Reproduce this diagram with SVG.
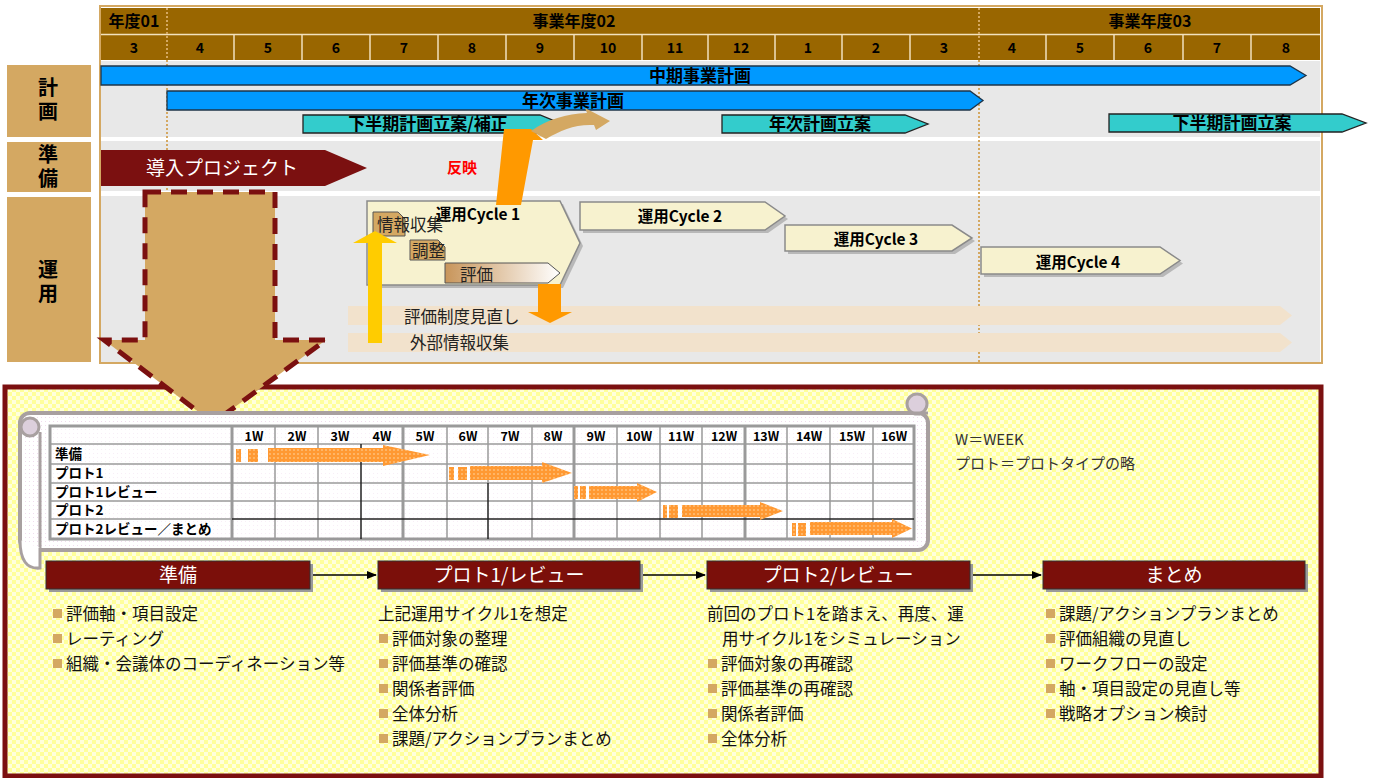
<svg xmlns="http://www.w3.org/2000/svg" width="1376" height="778" viewBox="0 0 1376 778">
<defs>
<pattern id="chk" width="8" height="8" patternUnits="userSpaceOnUse"><rect width="8" height="8" fill="#FFFFDC"/><rect width="4" height="4" fill="#FFFF9A"/><rect x="4" y="4" width="4" height="4" fill="#FFFF9A"/></pattern>
<pattern id="dots" width="4" height="4" patternUnits="userSpaceOnUse"><rect width="4" height="4" fill="#FFFFFF"/><rect x="1" y="1" width="1" height="1" fill="#F0DCEE"/></pattern>
<pattern id="odot" width="4" height="4" patternUnits="userSpaceOnUse"><rect width="4" height="4" fill="#FF9933"/><circle cx="2" cy="2" r="0.8" fill="#FFD9A8"/></pattern>
<linearGradient id="grad" x1="0" x2="1" y1="0" y2="0"><stop offset="0" stop-color="#C8955A"/><stop offset="1" stop-color="#FFFFFF"/></linearGradient>
<marker id="ah" markerWidth="10" markerHeight="10" refX="9" refY="5" orient="auto" markerUnits="userSpaceOnUse"><path d="M0,1 L10,5 L0,9 z" fill="#000"/></marker>
</defs>
<style>
text{font-family:"Noto Sans CJK JP","Noto Sans",sans-serif;}
.hd{font-size:16px;font-weight:bold;fill:#000;text-anchor:middle;}
.mo{font-size:14px;font-weight:bold;fill:#000;text-anchor:middle;}
.lab{font-size:20px;font-weight:bold;fill:#000;text-anchor:middle;writing-mode:vertical-rl;letter-spacing:4px;}
.bar{font-size:17px;font-weight:bold;fill:#000;text-anchor:middle;}
.cy{font-size:15.5px;font-weight:bold;fill:#000;text-anchor:middle;}
.blue{fill:#0099FF;stroke:#1E3448;stroke-width:1.3;}
.teal{fill:#33CCCC;stroke:#222;stroke-width:1.3;}
.cyc{fill:#F7F2CF;stroke:#8A8A8A;stroke-width:1.5;}
.cycs{fill:#B8B8B8;}
.band{fill:#F2E2CC;}
.bt{font-size:16.5px;fill:#222;}
.grid{stroke:#9A9A9A;stroke-width:1.5;fill:none;}
.wk{font-size:12.5px;font-weight:bold;fill:#000;text-anchor:middle;}
.rl{font-size:13.5px;font-weight:bold;fill:#000;}
.ga{fill:url(#odot);}
.ph{fill:#7B0F0A;stroke:#333;stroke-width:1;}
.phs{fill:#9A9A9A;}
.pt{font-size:19px;fill:#FFF;text-anchor:middle;}
.li{font-size:16.5px;fill:#111;}
.sq{fill:#D4A862;}
.conn{stroke:#000;stroke-width:1.3;fill:none;marker-end:url(#ah);}
.tan{fill:#D4A862;}
.dotl{stroke:#D4A862;stroke-width:2;stroke-dasharray:2 2;}
</style>

<g id="timeline-frame">
<rect x="101" y="61" width="1219" height="76" fill="#E8E8E8"/>
<rect x="101" y="141" width="1219" height="50" fill="#E8E8E8"/>
<rect x="101" y="196" width="1219" height="166" fill="#E8E8E8"/>
<rect x="100" y="6" width="1222" height="357" fill="none" stroke="#D4A862" stroke-width="2"/>
</g>

<g id="header">
<rect x="101" y="8" width="1219" height="52" fill="#996600"/>
<line x1="101" y1="34.5" x2="1320" y2="34.5" stroke="#F3E2BE" stroke-width="1.5"/>
<g stroke="#F3E2BE" stroke-width="1.5">
<line x1="234" y1="35" x2="234" y2="60"/><line x1="302" y1="35" x2="302" y2="60"/><line x1="370" y1="35" x2="370" y2="60"/><line x1="438" y1="35" x2="438" y2="60"/><line x1="506" y1="35" x2="506" y2="60"/><line x1="574" y1="35" x2="574" y2="60"/><line x1="642" y1="35" x2="642" y2="60"/><line x1="708" y1="35" x2="708" y2="60"/><line x1="775" y1="35" x2="775" y2="60"/><line x1="842" y1="35" x2="842" y2="60"/><line x1="910" y1="35" x2="910" y2="60"/><line x1="1046" y1="35" x2="1046" y2="60"/><line x1="1114" y1="35" x2="1114" y2="60"/><line x1="1183" y1="35" x2="1183" y2="60"/><line x1="1251" y1="35" x2="1251" y2="60"/>
</g>
<text class="hd" x="134" y="27">年度01</text>
<text class="hd" x="574" y="27">事業年度02</text>
<text class="hd" x="1150" y="27">事業年度03</text>
<text class="mo" x="134" y="53">3</text><text class="mo" x="200" y="53">4</text><text class="mo" x="268" y="53">5</text><text class="mo" x="336" y="53">6</text><text class="mo" x="404" y="53">7</text><text class="mo" x="472" y="53">8</text><text class="mo" x="540" y="53">9</text><text class="mo" x="608" y="53">10</text><text class="mo" x="675" y="53">11</text><text class="mo" x="741" y="53">12</text><text class="mo" x="808" y="53">1</text><text class="mo" x="876" y="53">2</text><text class="mo" x="944" y="53">3</text><text class="mo" x="1012" y="53">4</text><text class="mo" x="1080" y="53">5</text><text class="mo" x="1148" y="53">6</text><text class="mo" x="1217" y="53">7</text><text class="mo" x="1286" y="53">8</text>
</g>

<g id="row-labels">
<rect class="tan" x="7" y="65" width="84" height="72"/>
<text class="lab" x="48" y="101">計画</text>
<rect class="tan" x="7" y="142" width="84" height="50"/>
<text class="lab" x="48" y="168">準備</text>
<rect class="tan" x="7" y="197" width="84" height="165"/>
<text class="lab" x="48" y="283">運用</text>
</g>

<g id="dotted-lines">
<line class="dotl" x1="167" y1="8" x2="167" y2="190"/>
<line class="dotl" x1="979" y1="8" x2="979" y2="362"/>
</g>

<g id="plan-bars">
<polygon class="blue" points="101,66 1290,66 1306,75.5 1290,85 101,85"/>
<text class="bar" x="700" y="82">中期事業計画</text>
<polygon class="blue" points="167,91 970,91 983,100.5 970,110 167,110"/>
<text class="bar" x="573" y="107">年次事業計画</text>
<polygon class="teal" points="303,115 540,115 562,124 540,133 303,133"/>
<text class="bar" x="428" y="130">下半期計画立案/補正</text>
<polygon class="teal" points="722,115 905,115 928,124 905,133 722,133"/>
<text class="bar" x="820" y="130">年次計画立案</text>
<polygon class="teal" points="1109,114 1342,114 1366,123 1342,132 1109,132"/>
<text class="bar" x="1232" y="129">下半期計画立案</text>
</g>

<g id="prep-project">
<polygon points="101,150 325,150 367,168 325,186 101,186" fill="#7B1010"/>
<text x="222" y="175" font-size="19" fill="#FFF" text-anchor="middle">導入プロジェクト</text>
<text x="462" y="173" font-size="15" font-weight="bold" fill="#FF0000" text-anchor="middle">反映</text>
</g>

<g id="ops-bands">
<polygon class="band" points="348,306 1280,306 1292,315.5 1280,325 348,325"/>
<text class="bt" x="404" y="323">評価制度見直し</text>
<polygon class="band" points="348,333 1280,333 1292,342.5 1280,352 348,352"/>
<text class="bt" x="410" y="349">外部情報収集</text>
</g>

<g id="cycle1">
<polygon class="cycs" points="370,204 563,204 583,246 563,288 370,288"/>
<polygon class="cyc" points="367,201 560,201 580,243 560,285 367,285"/>
<text class="cy" x="478" y="220">運用Cycle 1</text>
<path d="M373,212 L398,212 L405,219 L405,236 L373,236 Z" fill="#D4A862" stroke="#555" stroke-width="1"/>
<text class="bt" x="377" y="231">情報収集</text>
<path d="M410,240 L438,240 L445,247 L445,260 L410,260 Z" fill="#D4A862" stroke="#555" stroke-width="1"/>
<text class="bt" x="412" y="257">調整</text>
<path d="M445,263 L548,263 L560,273 L548,283 L445,283 Z" fill="url(#grad)" stroke="#555" stroke-width="1"/>
<text class="bt" x="460" y="281">評価</text>
</g>

<g id="cycle2">
<polygon class="cycs" points="583,205 768,205 788,219 768,233 583,233"/>
<polygon class="cyc" points="580,202 765,202 785,216 765,230 580,230"/>
<text class="cy" x="680" y="222">運用Cycle 2</text>
</g>
<g id="cycle3">
<polygon class="cycs" points="788,228 955,228 975,241 955,254 788,254"/>
<polygon class="cyc" points="785,225 952,225 972,238 952,251 785,251"/>
<text class="cy" x="876" y="245">運用Cycle 3</text>
</g>
<g id="cycle4">
<polygon class="cycs" points="984,250 1163,250 1183,263.5 1163,277 984,277"/>
<polygon class="cyc" points="981,247 1160,247 1180,260.5 1160,274 981,274"/>
<text class="cy" x="1078" y="268">運用Cycle 4</text>
</g>

<g id="flow-arrows">
<polygon points="368,343 382,343 382,243 397,243 375,231 353,243 368,243" fill="#FFCC00"/>
<polygon points="538,284 561,284 561,312 572,312 550,323 528,312 538,312" fill="#FF9900"/>
<polygon points="496,205 521,205 533,140 543,140 531,129 504,129" fill="#FF9900"/>
<path d="M531,131 C548,119 566,114 587,113 L585,108 L610,121 L596,130 L594,125 C575,124 561,130 546,139 Z" fill="#D4A862"/>
</g>

<g id="detail-panel">
<rect x="5" y="387" width="1316" height="389" fill="url(#chk)" stroke="#7B1010" stroke-width="5"/>
</g>

<g id="big-arrow">
<polygon points="145,192 275,192 275,340 326,340 213,423 104,340 145,340" fill="#D4A862" stroke="#7B1010" stroke-width="5" stroke-dasharray="16 10"/>
</g>

<g id="scroll">
<rect x="20" y="413" width="908" height="137" rx="10" fill="url(#dots)" stroke="#A8A0A0" stroke-width="4"/>
<line x1="40" y1="432" x2="40" y2="548" stroke="#A8A0A0" stroke-width="3"/>
<circle cx="30" cy="427" r="9" fill="#DCCFDC" stroke="#A8A0A0" stroke-width="3"/>
<path d="M20,540 Q20,570 40,568 L40,548" fill="#FFFFFF" stroke="#A8A0A0" stroke-width="3"/>
<circle cx="917" cy="404" r="10" fill="#DCCFDC" stroke="#A8A0A0" stroke-width="3"/>
<line x1="905" y1="413" x2="928" y2="413" stroke="#A8A0A0" stroke-width="3"/>
</g>

<g id="gantt-table">
<rect x="50" y="426" width="864" height="113" fill="#FFFFFF" fill-opacity="0.5"/>
<g class="grid">
<line x1="50" y1="444" x2="914" y2="444"/><line x1="50" y1="464" x2="914" y2="464"/><line x1="50" y1="483" x2="914" y2="483"/><line x1="50" y1="501" x2="914" y2="501"/>
<line x1="275" y1="426" x2="275" y2="539"/><line x1="318" y1="426" x2="318" y2="539"/><line x1="447" y1="426" x2="447" y2="539"/><line x1="532" y1="426" x2="532" y2="539"/><line x1="617" y1="426" x2="617" y2="539"/><line x1="702" y1="426" x2="702" y2="539"/><line x1="787" y1="426" x2="787" y2="539"/><line x1="873" y1="426" x2="873" y2="539"/><line x1="660" y1="426" x2="660" y2="539"/><line x1="488" y1="426" x2="488" y2="483"/><line x1="830" y1="426" x2="830" y2="539"/>
</g>
<g stroke="#9A9A9A" stroke-width="3" fill="none">
<rect x="50" y="426" width="864" height="113"/>
<line x1="232" y1="426" x2="232" y2="539"/><line x1="403" y1="426" x2="403" y2="539"/><line x1="574" y1="426" x2="574" y2="539"/><line x1="745" y1="426" x2="745" y2="539"/>
</g>
<g stroke="#222" stroke-width="1.5">
<line x1="361" y1="444" x2="361" y2="539"/><line x1="488" y1="483" x2="488" y2="539"/><line x1="232" y1="519" x2="914" y2="519"/>
</g>
<line x1="50" y1="519" x2="232" y2="519" stroke="#9A9A9A" stroke-width="1.5"/>
<text class="wk" x="254" y="441">1W</text><text class="wk" x="297" y="441">2W</text><text class="wk" x="340" y="441">3W</text><text class="wk" x="382" y="441">4W</text><text class="wk" x="425" y="441">5W</text><text class="wk" x="468" y="441">6W</text><text class="wk" x="510" y="441">7W</text><text class="wk" x="553" y="441">8W</text><text class="wk" x="596" y="441">9W</text><text class="wk" x="639" y="441">10W</text><text class="wk" x="681" y="441">11W</text><text class="wk" x="724" y="441">12W</text><text class="wk" x="766" y="441">13W</text><text class="wk" x="809" y="441">14W</text><text class="wk" x="852" y="441">15W</text><text class="wk" x="894" y="441">16W</text>
<text class="rl" x="55" y="459">準備</text>
<text class="rl" x="55" y="478">プロト1</text>
<text class="rl" x="55" y="497">プロト1レビュー</text>
<text class="rl" x="55" y="515">プロト2</text>
<text class="rl" x="55" y="534">プロト2レビュー／まとめ</text>
</g>

<g id="gantt-bars">
<rect class="ga" x="236" y="449" width="5" height="13"/><rect class="ga" x="248" y="449" width="10" height="13"/>
<polygon class="ga" points="268,448 383,448 383,445 430,455 383,466 383,462 268,462"/>
<rect class="ga" x="449" y="467" width="5" height="13"/><rect class="ga" x="458" y="467" width="9" height="13"/>
<polygon class="ga" points="470,466 542,466 542,462 572,473 542,483 542,480 470,480"/>
<rect class="ga" x="574" y="486" width="4" height="13"/><rect class="ga" x="580" y="486" width="6" height="13"/>
<polygon class="ga" points="589,486 637,486 637,483 657,492 637,502 637,499 589,499"/>
<rect class="ga" x="663" y="505" width="4" height="13"/><rect class="ga" x="669" y="505" width="9" height="13"/>
<polygon class="ga" points="682,505 760,505 760,502 783,511 760,520 760,517 682,517"/>
<rect class="ga" x="792" y="523" width="4" height="13"/><rect class="ga" x="798" y="523" width="8" height="13"/>
<polygon class="ga" points="810,522 892,522 892,519 912,528.5 892,538 892,535 810,535"/>
</g>

<g id="note">
<text x="955" y="445" font-size="15" fill="#333">W＝WEEK</text>
<text x="955" y="469" font-size="15" fill="#333">プロト＝プロトタイプの略</text>
</g>

<g id="connectors">
<line class="conn" x1="312" y1="575" x2="376" y2="575"/>
<line class="conn" x1="642" y1="575" x2="705" y2="575"/>
<line class="conn" x1="972" y1="575" x2="1041" y2="575"/>
</g>

<g id="phase-prep">
<rect class="phs" x="49" y="564" width="264" height="28"/>
<rect class="ph" x="46" y="561" width="264" height="28"/>
<text class="pt" x="178" y="582">準備</text>
<rect class="sq" x="53" y="609" width="9" height="9"/><text class="li" x="66" y="620">評価軸・項目設定</text>
<rect class="sq" x="53" y="634" width="9" height="9"/><text class="li" x="66" y="645">レーティング</text>
<rect class="sq" x="53" y="659" width="9" height="9"/><text class="li" x="66" y="670">組織・会議体のコーディネーション等</text>
</g>

<g id="phase-proto1">
<rect class="phs" x="381" y="564" width="262" height="28"/>
<rect class="ph" x="378" y="561" width="262" height="28"/>
<text class="pt" x="509" y="582">プロト1/レビュー</text>
<text class="li" x="378" y="620">上記運用サイクル1を想定</text>
<rect class="sq" x="379" y="634" width="9" height="9"/><text class="li" x="392" y="645">評価対象の整理</text>
<rect class="sq" x="379" y="659" width="9" height="9"/><text class="li" x="392" y="670">評価基準の確認</text>
<rect class="sq" x="379" y="684" width="9" height="9"/><text class="li" x="392" y="695">関係者評価</text>
<rect class="sq" x="379" y="709" width="9" height="9"/><text class="li" x="392" y="720">全体分析</text>
<rect class="sq" x="379" y="734" width="9" height="9"/><text class="li" x="392" y="745">課題/アクションプランまとめ</text>
</g>

<g id="phase-proto2">
<rect class="phs" x="710" y="564" width="263" height="28"/>
<rect class="ph" x="707" y="561" width="263" height="28"/>
<text class="pt" x="838" y="582">プロト2/レビュー</text>
<text class="li" x="707" y="620">前回のプロト1を踏まえ、再度、運</text>
<text class="li" x="722" y="645">用サイクル1をシミュレーション</text>
<rect class="sq" x="708" y="659" width="9" height="9"/><text class="li" x="721" y="670">評価対象の再確認</text>
<rect class="sq" x="708" y="684" width="9" height="9"/><text class="li" x="721" y="695">評価基準の再確認</text>
<rect class="sq" x="708" y="709" width="9" height="9"/><text class="li" x="721" y="720">関係者評価</text>
<rect class="sq" x="708" y="734" width="9" height="9"/><text class="li" x="721" y="745">全体分析</text>
</g>

<g id="phase-summary">
<rect class="phs" x="1046" y="564" width="262" height="28"/>
<rect class="ph" x="1043" y="561" width="262" height="28"/>
<text class="pt" x="1174" y="582">まとめ</text>
<rect class="sq" x="1046" y="609" width="9" height="9"/><text class="li" x="1059" y="620">課題/アクションプランまとめ</text>
<rect class="sq" x="1046" y="634" width="9" height="9"/><text class="li" x="1059" y="645">評価組織の見直し</text>
<rect class="sq" x="1046" y="659" width="9" height="9"/><text class="li" x="1059" y="670">ワークフローの設定</text>
<rect class="sq" x="1046" y="684" width="9" height="9"/><text class="li" x="1059" y="695">軸・項目設定の見直し等</text>
<rect class="sq" x="1046" y="709" width="9" height="9"/><text class="li" x="1059" y="720">戦略オプション検討</text>
</g>
</svg>
